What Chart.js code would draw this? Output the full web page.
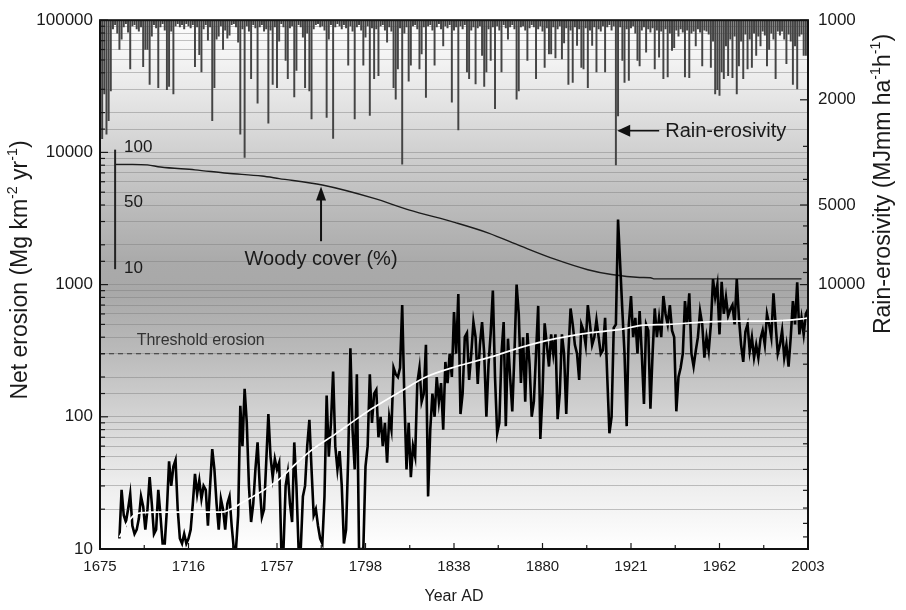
<!DOCTYPE html>
<html>
<head>
<meta charset="utf-8">
<script src="https://cdn.jsdelivr.net/npm/chart.js@4.4.1/dist/chart.umd.min.js"></script>
<style>html,body{margin:0;padding:0;background:#fff;}canvas{display:block;}</style>
</head>
<body>
<canvas id="c" width="906" height="610"></canvas>
<script>
// ---------------- DATA ----------------
const FIRST_RAIN_YEAR = 1675;
// Rain-erosivity (MJ mm ha-1 h-1), one value per year 1675-2003
const rainErosivity = [
  2160, 2805, 1900, 2700, 2400, 1850, 1080, 1040, 1120, 1290,
  1180, 1060, 1030, 1110, 1530, 1050, 1040, 1080, 1100, 1060,
  1500, 1290, 1290, 1750, 1150, 1040, 1070, 1800, 1060, 1030,
  1090, 1830, 1780, 1100, 1900, 1050, 1030, 1060, 1040, 1080,
  1030, 1050, 1070, 1040, 1500, 1060, 1350, 1570, 1080, 1040,
  1190, 1060, 2400, 1800, 1180, 1150, 1050, 1290, 1090, 1170,
  1140, 1040, 1030, 1060, 1210, 2700, 1080, 3300, 1050, 1100,
  1665, 1040, 1070, 2060, 1060, 1040, 1100, 1080, 2450, 1090,
  1750, 1060, 1800, 1200, 1030, 1060, 1420, 1665, 1070, 1050,
  1950, 1550, 1040, 1060, 1160, 1800, 1120, 1850, 2360, 1080,
  1040, 1030, 1060, 1050, 1090, 2330, 1180, 1040, 2800, 1060,
  1030, 1050, 1080, 1040, 1070, 1480, 1050, 1100, 2360, 1060,
  1040, 1090, 1480, 1160, 1050, 2290, 1070, 1665, 1080, 1620,
  1050, 1040, 1090, 1210, 1060, 1100, 1800, 1990, 1530, 1070,
  3500, 1120, 1060, 1700, 1480, 1050, 1040, 1080, 1530, 1340,
  1060, 1960, 1050, 1040, 1090, 1480, 1060, 1030, 1080, 1250,
  1050, 1070, 1040, 2040, 1090, 1060, 2600, 1050, 1080, 1040,
  1570, 1665, 1090, 1060, 1740, 1070, 1050, 1360, 1780, 1570,
  1080, 1420, 1060, 2160, 1050, 1090, 1570, 1040, 1070, 1180,
  1060, 1040, 1080, 1990, 1850, 1060, 1050, 1090, 1420, 1070,
  1040, 1060, 1665, 1080, 1050, 1100, 1510, 1070, 1340, 1340,
  1060, 1390, 1080, 1050, 1400, 1220, 1070, 1750, 1090, 1720,
  1060, 1246, 1080, 1510, 1530, 1070, 1800, 1090, 1246, 1060,
  1570, 1080, 1100, 1050, 1570, 1060, 1040, 1090, 1050, 3530,
  2300, 1060, 1420, 1720, 1080, 1690, 1070, 1050, 1120, 1420,
  1490, 1090, 1060, 1320, 1080, 1110, 1070, 1530, 1090, 1380,
  1100, 1665, 1080, 1640, 1120, 1300, 1270, 1090, 1150, 1080,
  1110, 1640, 1090, 1650, 1120, 1100, 1250, 1080, 1110, 1490,
  1090, 1100, 1130, 1510, 1200, 1900, 1830, 1925, 1570, 1665,
  1250, 1620, 1180, 1650, 1150, 1900, 1490, 1200, 1665, 1130,
  1530, 1180, 1510, 1120, 1360, 1150, 1250, 1100, 1140, 1490,
  1290, 1120, 1180, 1665, 1100, 1140, 1100, 1180, 1460, 1130,
  1200, 1750, 1250, 1820, 1150, 1130, 1360, 1360, 1200
];

const FIRST_EROSION_YEAR = 1684;
// Net erosion (Mg km-2 yr-1), one value per year 1684-2003
const netErosion = [
  12, 28, 18, 16, 20, 26, 15, 13, 14, 17,
  25, 21, 14, 20, 35, 22, 13, 14, 28, 18,
  11, 11, 20, 46, 30, 42, 47, 20, 12, 11,
  13, 11, 12, 14, 22, 37, 26, 33, 24, 30,
  28, 15, 30, 57, 40, 22, 14, 24, 20, 14,
  22, 25, 15, 10, 10, 18, 121, 60, 163, 90,
  30, 16, 22, 40, 64, 30, 17.5, 20, 45, 105,
  50, 35, 48, 40, 45, 10, 10, 30, 38, 22,
  16, 64, 30, 10, 10, 25, 30, 60, 95, 40,
  18, 20, 15, 12, 11, 25, 145, 50, 90, 220,
  60, 40, 55, 30, 11, 14, 50, 330, 80, 40,
  210, 10, 10, 10, 42, 60, 210, 90, 150, 160,
  70, 100, 60, 90, 45, 100, 80, 235, 210, 200,
  235, 700, 140, 40, 90, 35, 60, 50, 180, 235,
  130, 150, 350, 25, 80, 150, 100, 200, 130, 180,
  80, 260, 180, 300, 200, 620, 300, 850, 105, 150,
  400, 430, 190, 300, 520, 400, 177, 350, 520, 300,
  100, 250, 430, 900, 200, 75, 90, 300, 520, 85,
  390, 200, 110, 300, 1000, 600, 180, 400, 130, 430,
  250, 100, 130, 300, 690, 68, 150, 510, 350, 240,
  420, 300, 420, 96, 150, 420, 300, 105, 300, 660,
  500, 350, 300, 190, 500, 450, 350, 700, 500, 350,
  400, 540, 400, 300, 320, 560, 200, 75, 100, 470,
  500, 3100, 1400, 630, 300, 85, 500, 820, 400, 560,
  300, 630, 300, 125, 500, 450, 115, 300, 660, 400,
  560, 400, 820, 600, 500, 700, 450, 400, 110, 200,
  235, 300, 750, 500, 860, 300, 240, 315, 400, 630,
  500, 280, 400, 315, 500, 1100, 800, 1000, 420, 1050,
  600, 800, 580, 650, 700, 500, 1100, 560, 350, 260,
  440, 500, 315, 400, 280, 350, 280, 390, 450, 350,
  600, 500, 400, 860, 500, 300, 350, 450, 280, 350,
  240, 400, 750, 500, 1040, 420, 560, 420, 600, 650
];

// Smoothed net-erosion trend (white curve)
const trendYears  = [1684, 1688, 1692, 1700, 1715, 1731, 1742, 1757, 1765, 1773, 1784, 1795, 1802, 1815, 1826, 1840, 1855, 1870, 1886, 1901, 1917, 1925, 1938, 1954, 1969, 1985, 2000, 2003];
const trendValues = [12.3, 16, 18.5, 19, 19, 19, 23, 32.6, 43, 56, 74, 99, 118, 158, 200, 240, 280, 335, 390, 430, 460, 490, 500, 520, 530, 530, 550, 560];

// Woody cover (%)
const woodyYears = [1682, 1690, 1697, 1703, 1719, 1734, 1750, 1758, 1778, 1802, 1818, 1840, 1855, 1870, 1886, 1901, 1912, 1925, 1930, 1932, 2000];
const woodyCover = [78, 78, 77.2, 74, 70, 65.5, 62, 59, 52, 40, 32, 24.8, 20.3, 15.7, 12.1, 9.9, 9.0, 8.5, 8.45, 8.27, 8.27];

const thresholdErosion = 300;

// Tick labels
const xTickYears  = [1675, 1716, 1757, 1798, 1839, 1880, 1921, 1962, 2003];
const xTickLabels = ['1675', '1716', '1757', '1798', '1838', '1880', '1921', '1962', '2003'];
const leftTickLabels  = [10, 100, 1000, 10000, 100000];
const rightTickLabels = [1000, 2000, 5000, 10000];
const woodyTickLabels = [100, 50, 10];

// ---------------- CHART ----------------
const FONT = "'Liberation Sans', Arial, Helvetica, sans-serif";
const INK = '#1a1a1a';
const WOODY_AXIS_MIN = 0.0416, WOODY_AXIS_MAX = 1314;
const WOODY_SCALE_YEAR = 1682;

const rainYears = rainErosivity.map((_, i) => FIRST_RAIN_YEAR + i);
const erosionYears = netErosion.map((_, i) => FIRST_EROSION_YEAR + i);
const near = (list, v) => list.some(t => Math.abs(t - v) < 1e-6 * t);

function drawRich(ctx, parts, x, y, size, rotate) {
  ctx.save();
  ctx.translate(x, y);
  if (rotate) ctx.rotate(-Math.PI / 2);
  let total = 0;
  const widths = parts.map(p => {
    ctx.font = (p.sup ? size * 0.62 : size) + 'px ' + FONT;
    const w = ctx.measureText(p.t).width; total += w; return w;
  });
  let cx = -total / 2;
  ctx.textBaseline = 'middle'; ctx.textAlign = 'left'; ctx.fillStyle = INK;
  parts.forEach((p, i) => {
    ctx.font = (p.sup ? size * 0.62 : size) + 'px ' + FONT;
    ctx.fillText(p.t, cx, p.sup ? -size * 0.36 : 0);
    cx += widths[i];
  });
  ctx.restore();
}

const decor = {
  id: 'decor',
  beforeDraw(chart) {
    const { ctx, chartArea: a } = chart;
    ctx.save();
    ctx.fillStyle = '#fff';
    ctx.fillRect(0, 0, chart.width, chart.height);
    const g = ctx.createLinearGradient(0, a.top, 0, a.bottom);
    g.addColorStop(0.0, '#fdfdfd');
    g.addColorStop(0.08, '#f2f2f2');
    g.addColorStop(0.154, '#e4e4e4');
    g.addColorStop(0.249, '#d0d0d0');
    g.addColorStop(0.343, '#bdbdbd');
    g.addColorStop(0.456, '#aaaaaa');
    g.addColorStop(0.512, '#a8a8a8');
    g.addColorStop(0.625, '#bababa');
    g.addColorStop(0.757, '#d5d5d5');
    g.addColorStop(0.87, '#ececec');
    g.addColorStop(1.0, '#ffffff');
    ctx.fillStyle = g;
    ctx.fillRect(a.left, a.top, a.right - a.left, a.bottom - a.top);
    ctx.restore();
  },
  afterDatasetsDraw(chart) {
    const { ctx, chartArea: a, scales } = chart;
    const x = scales.x, y = scales.y, yR = scales.yR, yW = scales.yW;
    ctx.save();
    // inward tick marks
    ctx.strokeStyle = INK; ctx.lineWidth = 1.2;
    const seg = (x1, y1, x2, y2) => { ctx.beginPath(); ctx.moveTo(x1, y1); ctx.lineTo(x2, y2); ctx.stroke(); };
    y.ticks.forEach(t => { const p = y.getPixelForValue(t.value); seg(a.left, p, a.left + (near(leftTickLabels, t.value) ? 8 : 5), p); });
    yR.ticks.forEach(t => { const p = yR.getPixelForValue(t.value); seg(a.right - (near(rightTickLabels, t.value) ? 8 : 5), p, a.right, p); });
    xTickYears.forEach((v, i) => {
      const p = x.getPixelForValue(v); seg(p, a.bottom, p, a.bottom - 6);
      if (i < xTickYears.length - 1) { const m = x.getPixelForValue((v + xTickYears[i + 1]) / 2); seg(m, a.bottom, m, a.bottom - 4); }
    });
    // frame
    ctx.lineWidth = 2; ctx.strokeStyle = '#111';
    ctx.strokeRect(a.left, a.top, a.right - a.left, a.bottom - a.top);

    // woody cover scale bar + labels
    const wx = x.getPixelForValue(WOODY_SCALE_YEAR);
    ctx.lineWidth = 2; ctx.strokeStyle = '#222';
    seg(wx, yW.getPixelForValue(100) - 2, wx, yW.getPixelForValue(10));
    ctx.fillStyle = INK; ctx.font = '17px ' + FONT; ctx.textAlign = 'left'; ctx.textBaseline = 'middle';
    const nudge = { 100: -4, 50: 15, 10: -1 };
    woodyTickLabels.forEach(v => ctx.fillText(String(v), wx + 9, yW.getPixelForValue(v) + nudge[v]));

    // threshold label
    ctx.fillStyle = '#333'; ctx.font = '16px ' + FONT; ctx.textBaseline = 'bottom';
    ctx.fillText('Threshold erosion', x.getPixelForValue(1692), y.getPixelForValue(thresholdErosion) - 5);

    // Rain-erosivity annotation
    const rx = x.getPixelForValue(1914.6), ry = yR.getPixelForValue(2620);
    ctx.strokeStyle = '#111'; ctx.fillStyle = '#111'; ctx.lineWidth = 1.6;
    seg(rx + 10, ry, rx + 42, ry);
    ctx.beginPath(); ctx.moveTo(rx, ry); ctx.lineTo(rx + 13, ry - 6); ctx.lineTo(rx + 13, ry + 6); ctx.closePath(); ctx.fill();
    ctx.fillStyle = INK; ctx.font = '20px ' + FONT; ctx.textBaseline = 'middle'; ctx.textAlign = 'left';
    ctx.fillText('Rain-erosivity', rx + 48, ry + 1);

    // Woody cover annotation
    const ax = x.getPixelForValue(1777.4);
    const tipY = yW.getPixelForValue(50.5), tailY = yW.getPixelForValue(17.3);
    ctx.strokeStyle = '#111'; ctx.fillStyle = '#111'; ctx.lineWidth = 2;
    seg(ax, tailY, ax, tipY + 10);
    ctx.beginPath(); ctx.moveTo(ax, tipY); ctx.lineTo(ax - 5, tipY + 14); ctx.lineTo(ax + 5, tipY + 14); ctx.closePath(); ctx.fill();
    ctx.fillStyle = INK; ctx.font = '20px ' + FONT; ctx.textAlign = 'center'; ctx.textBaseline = 'middle';
    ctx.fillText('Woody cover (%)', ax, yW.getPixelForValue(12.2));
    ctx.restore();
  },
  afterDraw(chart) {
    const { ctx, chartArea: a } = chart;
    drawRich(ctx, [{ t: 'Net erosion (Mg km' }, { t: '-2', sup: true }, { t: ' yr' }, { t: '-1', sup: true }, { t: ')' }], 21, 270, 23, true);
    drawRich(ctx, [{ t: 'Rain-erosivity (MJmm ha' }, { t: '-1', sup: true }, { t: 'h' }, { t: '-1', sup: true }, { t: ')' }], 884, 184, 23, true);
    drawRich(ctx, [{ t: 'Year AD' }], (a.left + a.right) / 2, 597, 16, false);
  }
};

const tickFont = { family: FONT, size: 17 };

new Chart(document.getElementById('c').getContext('2d'), {
  type: 'line',
  data: {
    datasets: [
      {
        type: 'line', label: 'Net erosion trend', yAxisID: 'y', order: 1,
        data: trendYears.map((yr, i) => ({ x: yr, y: trendValues[i] })),
        borderColor: '#ffffff', borderWidth: 1.7, pointRadius: 0, cubicInterpolationMode: 'monotone'
      },
      {
        type: 'line', label: 'Net erosion', yAxisID: 'y', order: 2,
        data: erosionYears.map((yr, i) => ({ x: yr, y: netErosion[i] })),
        borderColor: '#000000', borderWidth: 2.6, pointRadius: 0, tension: 0
      },
      {
        type: 'line', label: 'Threshold erosion', yAxisID: 'y', order: 3,
        data: [{ x: 1675, y: thresholdErosion }, { x: 2003, y: thresholdErosion }],
        borderColor: '#333333', borderWidth: 1.1, borderDash: [5, 4], pointRadius: 0
      },
      {
        type: 'line', label: 'Woody cover (%)', yAxisID: 'yW', order: 4,
        data: woodyYears.map((yr, i) => ({ x: yr, y: woodyCover[i] })),
        borderColor: '#1c1c1c', borderWidth: 1.4, pointRadius: 0, cubicInterpolationMode: 'monotone'
      },
      {
        type: 'bar', label: 'Rain-erosivity', yAxisID: 'yR', order: 5,
        data: rainYears.map((yr, i) => ({ x: yr, y: [rightTickLabels[0], rainErosivity[i]] })),
        backgroundColor: '#444444', barThickness: 1.3, borderWidth: 0
      }
    ]
  },
  options: {
    responsive: false, animation: false, devicePixelRatio: 1,
    layout: { padding: { top: 18, left: 0, right: 0, bottom: 0 } },
    plugins: { legend: { display: false }, tooltip: { enabled: false } },
    scales: {
      x: {
        type: 'linear', min: 1675, max: 2003, offset: false,
        grid: { display: false, drawTicks: false }, border: { display: false },
        afterBuildTicks: s => { s.ticks = xTickYears.map(v => ({ value: v })); },
        ticks: { callback: (v, i) => xTickLabels[i], font: { family: FONT, size: 15 }, color: INK, padding: 9, maxRotation: 0, autoSkip: false },
        afterFit: s => { s.height = 61; }
      },
      y: {
        type: 'logarithmic', position: 'left', min: 10, max: 100000,
        grid: { color: 'rgba(125,125,125,0.45)', lineWidth: 1, drawTicks: false }, border: { display: false },
        ticks: { autoSkip: false, callback: v => near(leftTickLabels, v) ? String(v) : '', font: tickFont, color: INK, padding: 7 },
        afterFit: s => { s.width = 100; }
      },
      yR: {
        type: 'logarithmic', position: 'right', reverse: true, min: 1000, max: 100000,
        grid: { display: false, drawTicks: false }, border: { display: false },
        ticks: { autoSkip: false, callback: v => near(rightTickLabels, v) ? String(v) : '', font: tickFont, color: INK, padding: 10 },
        afterFit: s => { s.width = 98; }
      },
      yW: { type: 'logarithmic', display: false, min: WOODY_AXIS_MIN, max: WOODY_AXIS_MAX }
    }
  },
  plugins: [decor]
});
</script>
</body>
</html>
